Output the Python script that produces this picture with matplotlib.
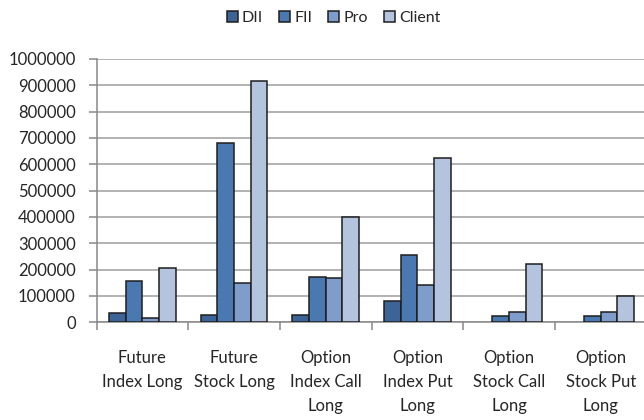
import numpy as np
import matplotlib
matplotlib.use("Agg")
import matplotlib.pyplot as plt

plt.rcParams['font.family'] = ['Lato', 'DejaVu Sans']

# participant-wise long positions
categories = ["Future\nIndex Long", "Future\nStock Long", "Option\nIndex Call\nLong",
              "Option\nIndex Put\nLong", "Option\nStock Call\nLong", "Option\nStock Put\nLong"]
series_names = ["DII", "FII", "Pro", "Client"]
dii = [34000, 27000, 27000, 80000, 0, 0]
fii = [156000, 680000, 172000, 256000, 22000, 22000]
pro = [15000, 148000, 167000, 142000, 40000, 40000]
client = [205000, 915000, 398000, 625000, 220000, 100000]
yticks = list(range(0, 1000001, 100000))

colors = ["#3c6496", "#4a79b2", "#7f9dcb", "#b4c3de"]
text_color = "#262626"

fig = plt.figure(figsize=(6.44, 4.2), dpi=100)
ax = fig.add_axes([0.150, 0.233, 0.854, 0.6266])

x = np.arange(len(categories))
bar_w = 1 / 5.5
for i, (name, vals) in enumerate(zip(series_names, [dii, fii, pro, client])):
    offs = (i - 1.5) * bar_w
    bars = ax.bar(x + offs, vals, width=bar_w, color=colors[i], edgecolor="#1e1e1e",
                  linewidth=1.1, label=name, zorder=3)
    # empty positions get no outline
    for b, v in zip(bars, vals):
        if v == 0:
            b.set_visible(False)

ax.set_xlim(-0.5, len(categories) - 0.5)
ax.set_ylim(0, 1000000)
ax.set_yticks(yticks)
ax.set_yticklabels([str(v) for v in yticks])
ax.yaxis.grid(True, color="#a6a6a6", linewidth=1.2, zorder=0)
ax.set_axisbelow(True)

# category ticks sit between groups
ax.set_xticks(np.arange(-0.5, len(categories) - 0.4, 1.0))
ax.set_xticklabels([])
ax.set_xticks(x, minor=True)
ax.set_xticklabels(categories, minor=True, linespacing=1.62)
ax.tick_params(axis="x", which="major", length=6, width=1.1, color="#888888", direction="out")
ax.tick_params(axis="x", which="minor", length=0, pad=20, labelsize=12, labelcolor=text_color)
ax.tick_params(axis="y", length=6, width=1.1, color="#888888", pad=9,
               labelsize=12, labelcolor=text_color)

for side in ["top", "right"]:
    ax.spines[side].set_visible(False)
ax.spines["left"].set_color("#888888")
ax.spines["left"].set_linewidth(1.1)
ax.spines["bottom"].set_color("#888888")
ax.spines["bottom"].set_linewidth(1.1)

leg = fig.legend(loc="upper center", bbox_to_anchor=(0.518, 1.008), ncol=4, frameon=False,
                 fontsize=11.5, handlelength=0.7, handleheight=0.7, handletextpad=0.25,
                 columnspacing=1.0, labelcolor=text_color)
for h in leg.legend_handles:
    h.set_edgecolor("#1e1e1e")
    h.set_linewidth(1.1)

fig.savefig("out.png", dpi=100)
